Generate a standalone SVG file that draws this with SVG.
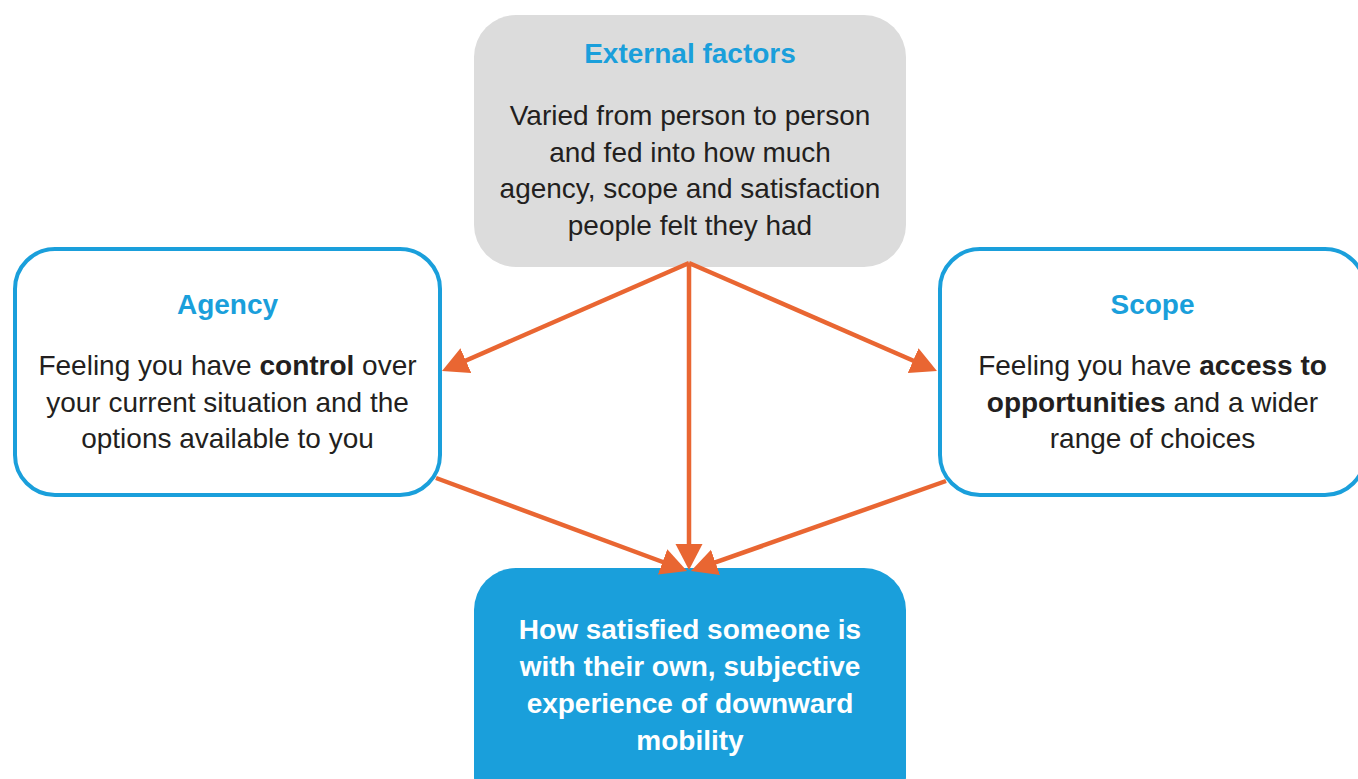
<svg xmlns="http://www.w3.org/2000/svg" width="1358" height="779" viewBox="0 0 1358 779">
<style>
text{font-family:"Liberation Sans",Arial,sans-serif;font-size:28px;text-anchor:middle;fill:#231f20}
.title{font-weight:bold;fill:#1a9fdb}
.b{font-weight:bold}
.w{font-weight:bold;fill:#ffffff}
.conn{stroke:#e96632;stroke-width:4.5;fill:none;marker-end:url(#ah)}
</style>
<defs>
<marker id="ah" markerUnits="userSpaceOnUse" markerWidth="27" markerHeight="28" refX="16" refY="13.5" orient="auto">
<path d="M0,0 L26,13.5 L0,27 z" fill="#e96632"/>
</marker>
</defs>
<rect width="1358" height="779" fill="#ffffff"/>
<g id="external">
<rect x="474" y="15" width="432" height="252" rx="42" fill="#dcdcdc"/>
<text class="title" x="690" y="63">External factors</text>
<text x="690" y="125">Varied from person to person</text>
<text x="690" y="162">and fed into how much</text>
<text x="690" y="198">agency, scope and satisfaction</text>
<text x="690" y="235">people felt they had</text>
</g>
<g id="agency">
<rect x="15" y="249" width="425" height="246" rx="40" fill="#ffffff" stroke="#1a9fdb" stroke-width="4"/>
<text class="title" x="227.5" y="314">Agency</text>
<text x="227.5" y="375">Feeling you have <tspan class="b">control</tspan> over</text>
<text x="227.5" y="412">your current situation and the</text>
<text x="227.5" y="448">options available to you</text>
</g>
<g id="scope">
<rect x="940" y="249" width="425" height="246" rx="40" fill="#ffffff" stroke="#1a9fdb" stroke-width="4"/>
<text class="title" x="1152.5" y="314">Scope</text>
<text x="1152.5" y="375">Feeling you have <tspan class="b">access to</tspan></text>
<text x="1152.5" y="412"><tspan class="b">opportunities</tspan> and a wider</text>
<text x="1152.5" y="448">range of choices</text>
</g>
<g id="satisfaction">
<rect x="474" y="568" width="432" height="250" rx="42" fill="#1a9fdb"/>
<text class="w" x="690" y="639">How satisfied someone is</text>
<text class="w" x="690" y="676">with their own, subjective</text>
<text class="w" x="690" y="713">experience of downward</text>
<text class="w" x="690" y="750">mobility</text>
</g>
<g id="connectors">
<line class="conn" x1="689" y1="263" x2="451.2" y2="367"/>
<line class="conn" x1="689" y1="263" x2="927.8" y2="367"/>
<line class="conn" x1="689" y1="263" x2="689" y2="560"/>
<line class="conn" x1="436" y1="478" x2="677.6" y2="567.5"/>
<line class="conn" x1="946" y1="481" x2="700.4" y2="567.7"/>
</g>
</svg>
